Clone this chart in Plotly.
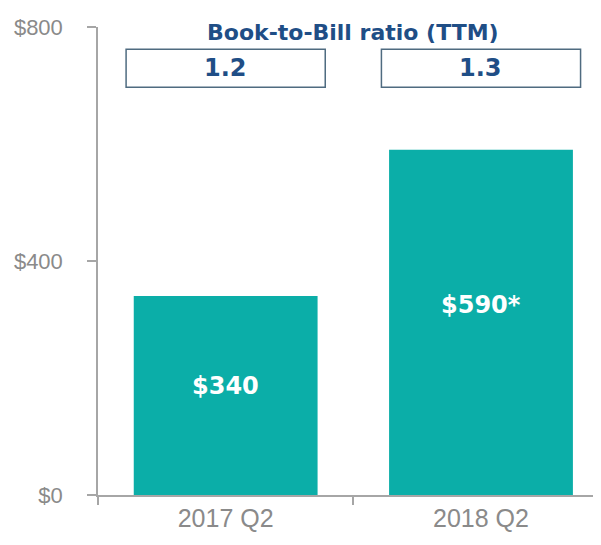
import plotly.graph_objects as go

categories = ["2017 Q2", "2018 Q2"]
values = [340, 590]
bar_labels = ["$340", "$590*"]
ratios = ["1.2", "1.3"]
ratio_title = "Book-to-Bill ratio (TTM)"
y_ticks = [0, 400, 800]
y_tick_labels = ["$0", "$400", "$800"]

BAR = "#0BAEA8"
NAVY = "#1F4E86"
GRAY = "#8A8A8A"
AXIS = "#A6A6A6"
FONT = "Liberation Sans, Arial, sans-serif"
WIDE = "DejaVu Sans, Liberation Sans, sans-serif"

fig = go.Figure()
fig.add_trace(go.Bar(x=categories, y=values, marker=dict(color=BAR, line=dict(width=0)),
                     width=0.72, hoverinfo="skip"))

# labels inside bars
for c, v, t in zip(categories, values, bar_labels):
    fig.add_annotation(x=c, y=v * 0.55, text=f"<b>{t}</b>", showarrow=False,
                       font=dict(color="white", size=24, family=WIDE))

# ratio boxes
for i, r in enumerate(ratios):
    fig.add_shape(type="rect", xref="x", yref="y", x0=i - 0.39, x1=i + 0.39,
                  y0=697, y1=762, line=dict(color="#4F6B80", width=1.5),
                  fillcolor="white")
    fig.add_annotation(x=categories[i], y=730, text=f"<b>{r}</b>", showarrow=False,
                       font=dict(color=NAVY, size=24, family=WIDE))

fig.add_annotation(x=0.5, xref="x", y=791, yref="y", text=f"<b>{ratio_title}</b>",
                   showarrow=False, font=dict(color=NAVY, size=22, family=WIDE))

# baseline extension to the left of y-axis
fig.add_shape(type="line", xref="paper", yref="y", x0=-0.02, x1=0, y0=0, y1=0,
              line=dict(color=AXIS, width=1.5))

fig.update_layout(
    width=601, height=545,
    margin=dict(l=90, r=8, t=19, b=58, autoexpand=False),
    paper_bgcolor="white", plot_bgcolor="white",
    showlegend=False,
    font=dict(family=FONT, color=GRAY),
    xaxis=dict(type="category", range=[-0.5, 1.47], showgrid=False, automargin=False,
               showline=True, linecolor=AXIS, linewidth=1.5,
               ticks="outside", tickson="boundaries", ticklen=8, tickcolor=AXIS,
               tickwidth=1.5, tickfont=dict(size=25, color=GRAY, family=FONT)),
    yaxis=dict(range=[0, 800], tickvals=y_ticks, ticktext=y_tick_labels, automargin=False,
               showgrid=False, zeroline=False, showline=True, linecolor=AXIS,
               linewidth=1.5, ticks="outside", ticklen=9, tickcolor=AXIS,
               tickwidth=1.5, ticklabelstandoff=20,
               tickfont=dict(size=22, color=GRAY, family=FONT)),
)

fig.write_html("out.html")
